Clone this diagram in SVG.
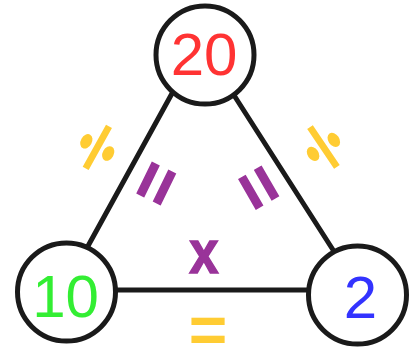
<svg xmlns="http://www.w3.org/2000/svg" width="419" height="348" viewBox="0 0 419 348">
<style>
.edge{stroke:#1a1a1a;stroke-width:5;stroke-linecap:round;fill:none}
.node{fill:#fff;stroke:#1a1a1a;stroke-width:5}
.num{font-family:"Liberation Sans",Arial,sans-serif;font-size:60px;text-anchor:middle}
.op{font-family:"Liberation Sans",Arial,sans-serif;font-weight:bold;text-anchor:middle}
.div{font-family:"Liberation Serif","Times New Roman",serif;font-weight:bold;text-anchor:middle;font-size:98px;stroke:#ffcc33;stroke-width:2.5}
.yel{fill:#ffcc33}
.pur{fill:#993399}
</style>
<g id="connectors">
<line class="edge" x1="175" y1="88" x2="88" y2="246"/>
<line class="edge" x1="230" y1="89" x2="335" y2="253"/>
<line class="edge" x1="112" y1="290" x2="312" y2="290"/>
</g>
<g id="node-20">
<circle class="node" cx="205" cy="55" r="49"/>
<text class="num" x="204" y="75" fill="#ff3333">20</text>
</g>
<g id="node-10">
<circle class="node" cx="66.5" cy="292" r="49"/>
<text class="num" x="65.5" y="317" fill="#33ee33">10</text>
</g>
<g id="node-2">
<circle class="node" cx="357.5" cy="295" r="49"/>
<text class="num" x="360.5" y="318" fill="#3333ff">2</text>
</g>
<g id="labels">
<text class="div yel" transform="translate(102,150) rotate(-61) scale(1,0.72)" y="25">÷</text>
<text class="div yel" transform="translate(319,150) rotate(56) scale(1,0.72)" y="25">÷</text>
<text class="op pur" font-size="68" stroke="#993399" stroke-width="1.5" transform="translate(155,183) rotate(-64)" y="24">=</text>
<text class="op pur" font-size="68" stroke="#993399" stroke-width="1.5" transform="translate(260,187) rotate(60)" y="24">=</text>
<text class="op pur" font-size="62" stroke="#993399" stroke-width="1.5" transform="translate(204,273) scale(0.85,1)">x</text>
<text class="op yel" font-size="66" x="208" y="353">=</text>
</g>
</svg>
